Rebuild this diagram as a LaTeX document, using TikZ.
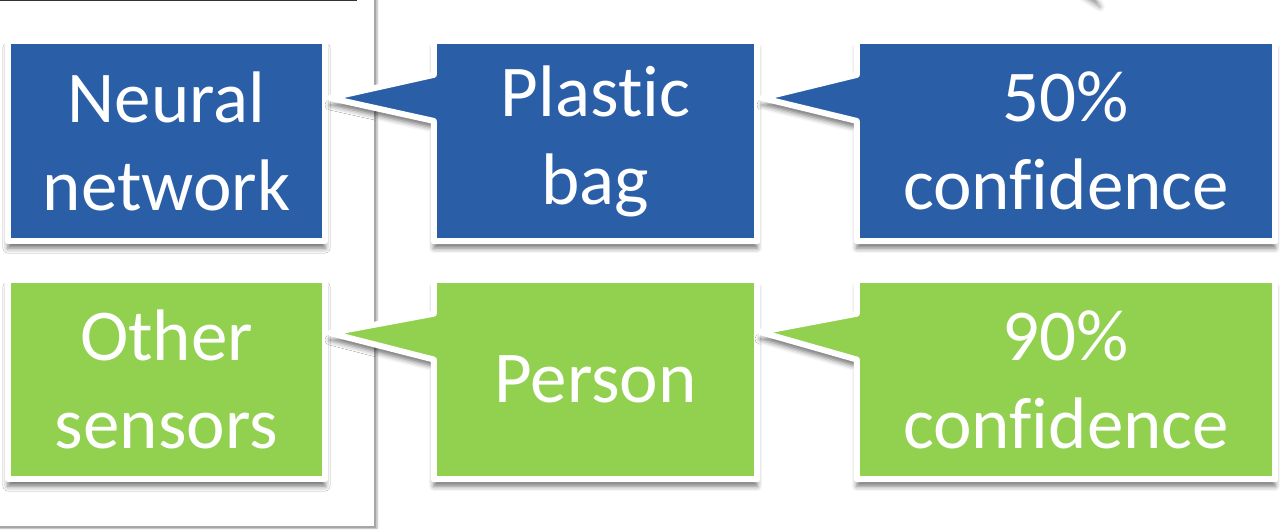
\documentclass[tikz,border=0pt]{standalone}
\usepackage{fontspec}
\setmainfont{Carlito}[Ligatures={NoCommon}]
\usetikzlibrary{backgrounds,calc,shadows.blur}
\definecolor{cblue}{HTML}{2A5FA8}
\definecolor{cgreen}{HTML}{92D050}
\definecolor{framegray}{HTML}{A6A6A6}
\begin{document}
\begin{tikzpicture}[x=1pt,y=-1pt,
  txt/.style={text=white, align=center, inner sep=0pt, minimum height=200pt,
    font=\fontsize{73}{88}\selectfont},
  col1/.style={minimum width=317pt},
  col2/.style={minimum width=323pt},
  col3/.style={minimum width=418pt},
  card/.style={line width=6pt, draw=white, line join=round,
    blur shadow={shadow xshift=0pt, shadow yshift=-7pt, shadow blur radius=5pt, shadow opacity=55}},
  frameline/.style={line width=1.8pt, draw=framegray, fill=white,
    blur shadow={shadow xshift=2pt, shadow yshift=-1pt, shadow blur radius=2pt, shadow opacity=35}},
]
\useasboundingbox (0,0) rectangle (1281,530);

% text nodes
\node[txt,col1] (nn)  at (166.5,141) {Neural\\network};
\node[txt,col2] (pb)  at (595.5,141) {Plastic\\bag};
\node[txt,col3] (c50) at (1066,141)  {50\%\\confidence};
\node[txt,col1,minimum height=199pt] (os)  at (166.5,379.5) {Other\\sensors};
\node[txt,col2,minimum height=199pt] (pe)  at (595.5,379.5) {Person};
\node[txt,col3,minimum height=199pt] (c90) at (1066,379.5)  {90\%\\confidence};

\coordinate (tpb) at (330,98);
\coordinate (t50) at (762,98);
\coordinate (tpe) at (330,333);
\coordinate (t90) at (760,332);

\begin{pgfonlayer}{background}
  % panel frame on the left
  \path[frameline] (-20,-20) rectangle (375,527);
  \draw[line width=2pt, black!80] (-5,0.4) -- (357,0.4);
  % partial callout tip at the top right
  \path[fill=white, blur shadow={shadow xshift=0pt, shadow yshift=-6pt, shadow blur radius=5pt, shadow opacity=45}]
    (1050,-30) -- (1100,1) -- (1085,-30) -- cycle;
  % cards
  \path[card, fill=cblue] (nn.north west) rectangle (nn.south east);
  \path[card, fill=cblue] (pb.north west) -- ($(pb.north west)!0.17!(pb.south west)$) -- (tpb)
     -- ($(pb.north west)!0.40!(pb.south west)$) -- (pb.south west) -- (pb.south east) -- (pb.north east) -- cycle;
  \path[card, fill=cblue] (c50.north west) -- ($(c50.north west)!0.17!(c50.south west)$) -- (t50)
     -- ($(c50.north west)!0.40!(c50.south west)$) -- (c50.south west) -- (c50.south east) -- (c50.north east) -- cycle;
  \path[card, fill=cgreen] (os.north west) rectangle (os.south east);
  \path[card, fill=cgreen] (pe.north west) -- ($(pe.north west)!0.17!(pe.south west)$) -- (tpe)
     -- ($(pe.north west)!0.40!(pe.south west)$) -- (pe.south west) -- (pe.south east) -- (pe.north east) -- cycle;
  \path[card, fill=cgreen] (c90.north west) -- ($(c90.north west)!0.17!(c90.south west)$) -- (t90)
     -- ($(c90.north west)!0.40!(c90.south west)$) -- (c90.south west) -- (c90.south east) -- (c90.north east) -- cycle;
\end{pgfonlayer}
\end{tikzpicture}
\end{document}
